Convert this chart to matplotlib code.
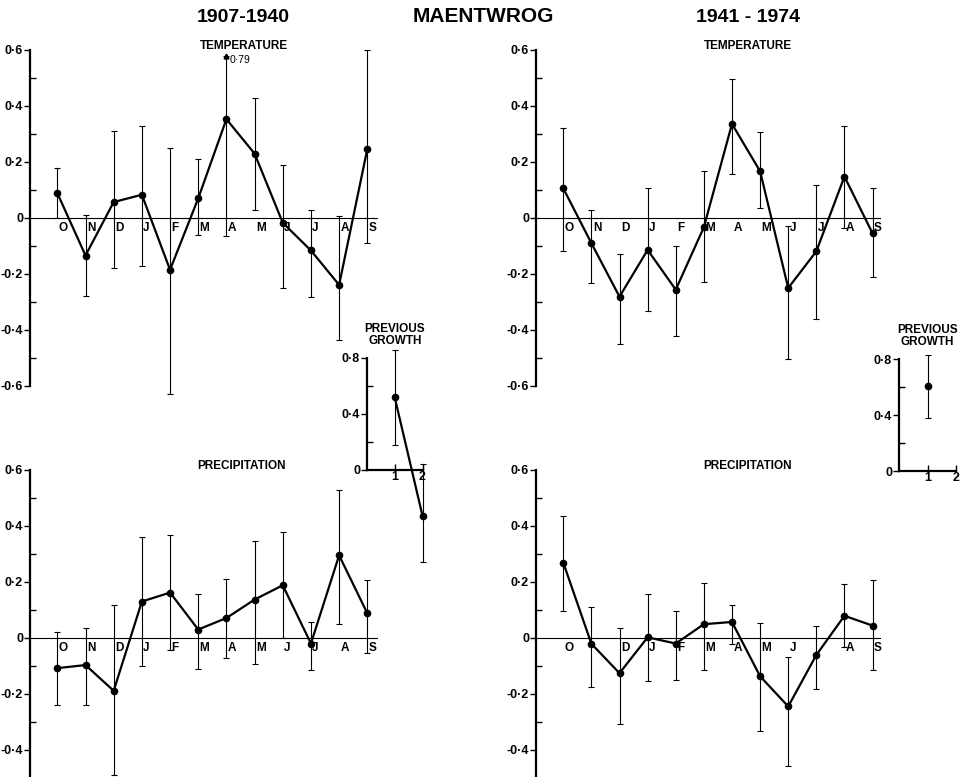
import numpy as np
import matplotlib
matplotlib.use("Agg")
import matplotlib.pyplot as plt
from matplotlib.ticker import FuncFormatter, FixedLocator

plt.rcParams['font.family'] = ['Liberation Sans', 'DejaVu Sans']
plt.rcParams['font.weight'] = 'bold'

# ---------------- data ----------------
months = ['O', 'N', 'D', 'J', 'F', 'M', 'A', 'M', 'J', 'J', 'A', 'S']
months_p2 = ['O', '', 'D', 'J', 'F', 'M', 'A', 'M', 'J', '', 'A', 'S']

# 1907-1940 temperature
t1_val = [0.089, -0.134, 0.057, 0.083, -0.185, 0.070, 0.353, 0.230, -0.017, -0.116, -0.239, 0.246]
t1_lo = [0.000, -0.280, -0.178, -0.172, -0.630, -0.062, -0.063, 0.030, -0.250, -0.283, -0.434, -0.090]
t1_hi = [0.177, 0.010, 0.310, 0.330, 0.250, 0.210, 0.790, 0.430, 0.190, 0.027, 0.006, 0.600]

# 1941-1974 temperature
t2_val = [0.106, -0.090, -0.281, -0.114, -0.256, -0.033, 0.336, 0.167, -0.250, -0.119, 0.148, -0.055]
t2_lo = [-0.119, -0.231, -0.451, -0.333, -0.420, -0.230, 0.158, 0.037, -0.505, -0.360, -0.036, -0.212]
t2_hi = [0.320, 0.030, -0.129, 0.108, -0.101, 0.169, 0.495, 0.307, -0.029, 0.117, 0.329, 0.107]

# 1907-1940 precipitation
p1_val = [-0.108, -0.097, -0.189, 0.130, 0.162, 0.030, 0.071, 0.137, 0.188, -0.020, 0.295, 0.088]
p1_lo = [-0.240, -0.238, -0.490, -0.100, -0.044, -0.110, -0.071, -0.093, 0.000, -0.113, 0.048, -0.053]
p1_hi = [0.020, 0.037, 0.116, 0.360, 0.366, 0.158, 0.210, 0.347, 0.378, 0.056, 0.529, 0.208]

# 1941-1974 precipitation
p2_val = [0.269, -0.021, -0.126, 0.002, -0.020, 0.049, 0.057, -0.137, -0.245, -0.061, 0.079, 0.044]
p2_lo = [0.096, -0.174, -0.306, -0.154, -0.151, -0.114, -0.023, -0.332, -0.456, -0.183, -0.033, -0.113]
p2_hi = [0.436, 0.110, 0.037, 0.156, 0.096, 0.198, 0.117, 0.054, -0.068, 0.044, 0.194, 0.207]

# previous growth (lags 1, 2)
g1_x = [1, 2]
g1_val = [0.518, -0.327]
g1_lo = [0.179, -0.657]
g1_hi = [0.855, 0.043]

g2_x = [1]
g2_val = [0.609]
g2_lo = [0.382]
g2_hi = [0.829]

# ---------------- figure ----------------
W, H = 966, 777
fig = plt.figure(figsize=(W / 100, H / 100), dpi=100)


def px_axes(left, top, width, height):
    return fig.add_axes([left / W, 1 - (top + height) / H, width / W, height / H])


def fmt(v, pos):
    if abs(v) < 1e-9:
        return '0'
    return f'{v:.1f}'.replace('.', '\u00b7')


def style_y(ax, major, minor):
    ax.yaxis.set_major_locator(FixedLocator(major))
    ax.yaxis.set_minor_locator(FixedLocator(minor))
    ax.yaxis.set_major_formatter(FuncFormatter(fmt))
    ax.tick_params(axis='y', which='major', direction='out', length=4, width=1.0,
                   labelsize=9, pad=1)
    ax.tick_params(axis='y', which='minor', direction='in', length=4, width=1.0)
    for lab in ax.get_yticklabels():
        lab.set_fontweight('bold')


def draw_main(ax, vals, lo, hi, labels, ylim, x_right):
    vals, lo, hi = map(np.asarray, (vals, lo, hi))
    x = np.arange(1, len(vals) + 1)
    ax.set_xlim(0.03, x_right)
    ax.set_ylim(*ylim)
    ax.patch.set_alpha(0)
    for s in ['top', 'right', 'bottom']:
        ax.spines[s].set_visible(False)
    ax.spines['left'].set_linewidth(1.6)
    ax.set_xticks([])
    top = ylim[1]
    major = [v for v in np.arange(-0.6, 0.61, 0.2) if v >= ylim[0] - 1e-9]
    minor = [v for v in np.arange(-0.5, 0.6, 0.2) if v >= ylim[0] - 1e-9]
    style_y(ax, major, minor)
    ax.axhline(0, color='k', lw=0.8)
    over = hi > top + 1e-9
    hi_draw = np.where(over, top - 0.02, hi)
    ax.errorbar(x, vals, yerr=[vals - lo, hi_draw - vals], fmt='none', ecolor='k',
                elinewidth=0.8, capsize=2, capthick=0.8, clip_on=False)
    ax.plot(x, vals, color='k', lw=1.6, marker='o', ms=4.5, clip_on=False, zorder=3)
    for xi, lab in zip(x, labels):
        if lab:
            ax.annotate(lab, (xi, 0), xytext=(1, -3), textcoords='offset points',
                        ha='left', va='top', fontsize=8.5, fontweight='bold')
    for xi, h, hd, o in zip(x, hi, hi_draw, over):
        if o:
            ax.plot([xi], [hd], marker='^', ms=3.5, color='k', clip_on=False)
            ax.annotate(f'{h:.2f}'.replace('.', '\u00b7'), (xi, hd), xytext=(2, -7),
                        textcoords='offset points', ha='left', va='bottom',
                        fontsize=7.5, fontweight='normal')


def draw_growth(ax, xs, vals, lo, hi):
    vals, lo, hi = map(np.asarray, (vals, lo, hi))
    ax.set_xlim(0, 2)
    ax.set_ylim(0, 0.8)
    ax.patch.set_alpha(0)
    for s in ['top', 'right']:
        ax.spines[s].set_visible(False)
    ax.spines['left'].set_linewidth(1.6)
    ax.spines['bottom'].set_linewidth(1.6)
    ax.set_xticks([1, 2])
    ax.set_xticklabels(['1', '2'], fontweight='bold')
    ax.tick_params(axis='x', direction='in', length=4, width=1.0, labelsize=9, pad=1)
    style_y(ax, [0, 0.4, 0.8], [0.2, 0.6])
    ax.errorbar(xs, vals, yerr=[vals - lo, hi - vals], fmt='none', ecolor='k',
                elinewidth=0.8, capsize=2, capthick=0.8, clip_on=False)
    ax.plot(xs, vals, color='k', lw=1.6, marker='o', ms=4.5, clip_on=False, zorder=3)
    ax.annotate('PREVIOUS\nGROWTH', (1, 0.8), xytext=(0, 8), textcoords='offset points',
                ha='center', va='bottom', fontsize=8.5, fontweight='bold',
                multialignment='center', linespacing=0.95)


# main panels
ax_t1 = px_axes(30, 50, 348, 336)
draw_main(ax_t1, t1_val, t1_lo, t1_hi, months, (-0.6, 0.6), 12.38)
ax_t2 = px_axes(536, 50, 345, 336)
draw_main(ax_t2, t2_val, t2_lo, t2_hi, months, (-0.6, 0.6), 12.3)
ax_p1 = px_axes(30, 470, 348, 307)
draw_main(ax_p1, p1_val, p1_lo, p1_hi, months, (-0.497, 0.6), 12.38)
ax_p2 = px_axes(536, 470, 345, 307)
draw_main(ax_p2, p2_val, p2_lo, p2_hi, months_p2, (-0.497, 0.6), 12.3)

# previous growth panels
ax_g1 = px_axes(367, 358, 55.5, 112)
draw_growth(ax_g1, g1_x, g1_val, g1_lo, g1_hi)
ax_g2 = px_axes(899, 359, 57, 112)
draw_growth(ax_g2, g2_x, g2_val, g2_lo, g2_hi)


def ftext(xp, yp, s, **kw):
    fig.text(xp / W, 1 - yp / H, s, ha='center', va='center', **kw)


ftext(243, 18, '1907-1940', fontsize=14, fontweight='bold')
ftext(483, 17, 'MAENTWROG', fontsize=15, fontweight='bold')
ftext(748, 18, '1941 - 1974', fontsize=14, fontweight='bold')
ftext(244, 46, 'TEMPERATURE', fontsize=8.5, fontweight='bold')
ftext(748, 46, 'TEMPERATURE', fontsize=8.5, fontweight='bold')
ftext(242, 466, 'PRECIPITATION', fontsize=8.5, fontweight='bold')
ftext(748, 466, 'PRECIPITATION', fontsize=8.5, fontweight='bold')

fig.savefig('out.png', dpi=100)
